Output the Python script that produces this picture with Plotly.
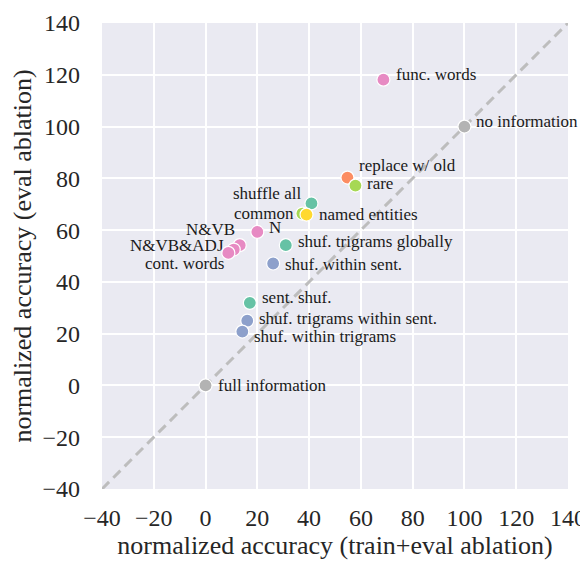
import plotly.graph_objects as go

labels = ["full information", "no information", "func. words", "replace w/ old", "rare",
          "shuffle all", "common", "named entities", "N", "N&VB", "N&VB&ADJ", "cont. words",
          "shuf. trigrams globally", "shuf. within sent.", "sent. shuf.",
          "shuf. trigrams within sent.", "shuf. within trigrams"]
train_eval = [0, 100, 68.7, 54.8, 57.9, 40.9, 37.4, 39.0, 20.0, 13.2, 10.9, 8.8, 31.0, 26.1, 17.1, 16.1, 14.2]
eval_only = [0, 100, 118.1, 80.3, 77.2, 70.3, 66.4, 66.0, 59.3, 54.2, 52.5, 51.2, 54.2, 47.1, 31.9, 25.0, 20.8]
colors = ["#b3b3b3", "#b3b3b3", "#e78ac3", "#fc8d62", "#a6d854",
          "#66c2a5", "#a6d854", "#ffd92f", "#e78ac3", "#e78ac3", "#e78ac3", "#e78ac3",
          "#66c2a5", "#8da0cb", "#66c2a5", "#8da0cb", "#8da0cb"]
# label placement: (xanchor, xshift px, yshift px)
placement = [("left", 10, 0), ("left", 10, 5), ("left", 11, 5), ("left", 10, 12), ("left", 10, 2),
             ("right", -8, 10), ("right", -6, 0), ("left", 10, 0), ("left", 10, 4), ("right", -3, 16),
             ("right", -8, 4), ("right", -2, -11), ("left", 10, 4), ("left", 10, -1), ("left", 10, 5),
             ("left", 10, 2), ("left", 10, -5)]
diag = [-40, 140]
ticks = [-40, -20, 0, 20, 40, 60, 80, 100, 120, 140]

FONT = "Liberation Serif, Times New Roman, serif"
fig = go.Figure()
fig.add_trace(go.Scatter(x=diag, y=diag, mode="lines",
                         line=dict(color="#bdbdbd", width=3, dash="10px,6px"),
                         hoverinfo="skip", showlegend=False))
fig.add_trace(go.Scatter(x=train_eval, y=eval_only,
                         mode="markers", text=labels,
                         marker=dict(size=13, color=colors,
                                     line=dict(color="white", width=1.2)),
                         showlegend=False))
for lab, xv, yv, (xa, xs, ys) in zip(labels, train_eval, eval_only, placement):
    fig.add_annotation(x=xv, y=yv, text=lab, showarrow=False, xanchor=xa, yanchor="middle",
                       xshift=xs, yshift=ys, font=dict(family=FONT, size=17, color="#1a1a1a"))

axis_common = dict(range=[-40, 140], tickvals=ticks, showgrid=True, gridcolor="white",
                   gridwidth=1.6, zeroline=False, showline=False, ticks="", automargin=False,
                   tickfont=dict(family=FONT, size=24, color="#262626"),
                   title_font=dict(family=FONT, size=26, color="#262626"))
fig.update_xaxes(**axis_common, title_text="normalized accuracy (train+eval ablation)",
                 title_standoff=4, ticklabelstandoff=12)
fig.update_yaxes(**axis_common, title_text="normalized accuracy (eval ablation)",
                 title_standoff=6, ticklabelstandoff=21)
fig.update_layout(width=580, height=554, margin=dict(l=94, r=20, t=15, b=73),
                  plot_bgcolor="#eaeaf2", paper_bgcolor="white",
                  font=dict(family=FONT, color="#262626"))
fig.write_html("out.html")
